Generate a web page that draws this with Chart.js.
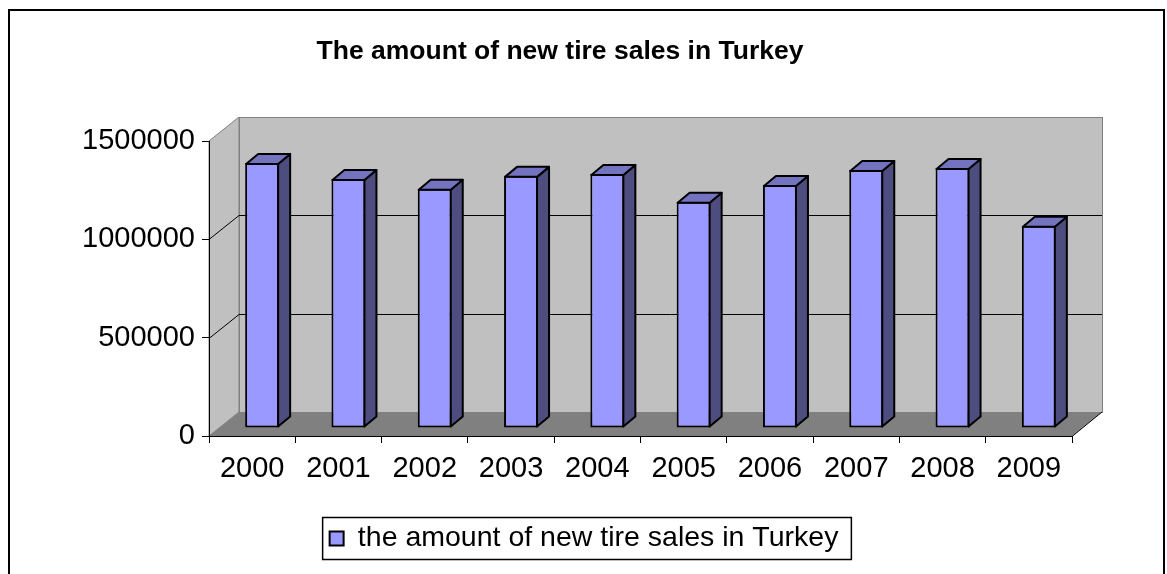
<!DOCTYPE html>
<html>
<head>
<meta charset="utf-8">
<title>New tire sales in Turkey</title>
<script src="https://cdn.jsdelivr.net/npm/chart.js@4.4.1/dist/chart.umd.min.js"></script>
<style>
  html, body { margin: 0; padding: 0; background: #ffffff; }
  #wrap { width: 1167px; height: 574px; position: relative; overflow: hidden; }
  canvas { display: block; }
</style>
</head>
<body>
<div id="wrap"><canvas id="chart" width="1167" height="574"></canvas></div>
<script>
// ---- data ----
const years = ['2000', '2001', '2002', '2003', '2004', '2005', '2006', '2007', '2008', '2009'];
const sales = [1348000, 1266000, 1216000, 1282000, 1292000, 1150000, 1236000, 1312000, 1322000, 1028000];
const yTickValues = [0, 500000, 1000000, 1500000];
const chartTitle = 'The amount of new tire sales in Turkey';
const seriesLabel = 'the amount of new tire sales in Turkey';

// ---- styling ----
const FONT = "'Liberation Sans', Arial, sans-serif";
const WALL_DEPTH = { dx: 30, dy: -24 };   // depth of the 3-D box
const BAR_SHIFT = { dx: 10, dy: -8 };     // bars stand a third of the way into the box
const BAR_DEPTH = { dx: 12, dy: -10 };    // thickness of each column
const LEGEND_INSET = 56;                  // moves the legend's centre to the right
const COLORS = {
  wall: '#c0c0c0',
  floor: '#808080',
  wallEdge: '#808080',
  barFront: '#9999ff',
  barTop: '#7373bf',
  barSide: '#4d4d80'
};

// Outer frame, walls, floor and grid lines of the 3-D plot box
const box3d = {
  id: 'box3d',
  afterLayout(chart) {
    const lg = chart.legend;
    if (lg) {
      lg.left += LEGEND_INSET;
      lg.width = lg.right - lg.left;
    }
  },
  beforeDraw(chart) {
    const ctx = chart.ctx;
    const { left, right, top, bottom } = chart.chartArea;
    const yScale = chart.scales.y;
    const dx = WALL_DEPTH.dx, dy = WALL_DEPTH.dy;
    ctx.save();

    // outer chart frame
    ctx.strokeStyle = '#000';
    ctx.lineWidth = 2;
    ctx.strokeRect(9, 10, 1155, 620);

    // side wall
    ctx.beginPath();
    ctx.moveTo(left, top);
    ctx.lineTo(left + dx, top + dy);
    ctx.lineTo(left + dx, bottom + dy);
    ctx.lineTo(left, bottom);
    ctx.closePath();
    ctx.fillStyle = COLORS.wall;
    ctx.fill();
    ctx.strokeStyle = COLORS.wallEdge;
    ctx.lineWidth = 1;
    ctx.stroke();

    // back wall
    ctx.fillStyle = COLORS.wall;
    ctx.fillRect(left + dx, top + dy, right - left, bottom - top);
    ctx.strokeStyle = COLORS.wallEdge;
    ctx.strokeRect(left + dx + 0.5, top + dy + 0.5, right - left, bottom - top);

    // floor
    ctx.beginPath();
    ctx.moveTo(left, bottom);
    ctx.lineTo(left + dx, bottom + dy);
    ctx.lineTo(right + dx, bottom + dy);
    ctx.lineTo(right, bottom);
    ctx.closePath();
    ctx.fillStyle = COLORS.floor;
    ctx.fill();
    ctx.beginPath();
    ctx.moveTo(right, bottom + 0.5);
    ctx.lineTo(right + dx, bottom + dy);
    ctx.strokeStyle = '#000';
    ctx.stroke();

    // grid lines on the side and back walls
    ctx.strokeStyle = '#000';
    ctx.lineWidth = 1;
    yScale.ticks.forEach(t => {
      if (t.value <= yScale.min || t.value >= yScale.max) return;
      const y = Math.round(yScale.getPixelForValue(t.value)) + 0.5;
      ctx.beginPath();
      ctx.moveTo(left, y);
      ctx.lineTo(left + dx, y + dy);
      ctx.lineTo(right + dx, y + dy);
      ctx.stroke();
    });
    ctx.restore();
  }
};

// Shift the columns into the box and add their top and side faces
const columns3d = {
  id: 'columns3d',
  beforeDatasetsDraw(chart) {
    chart.ctx.save();
    chart.ctx.translate(BAR_SHIFT.dx, BAR_SHIFT.dy);
  },
  afterDatasetsDraw(chart) {
    const ctx = chart.ctx;
    const meta = chart.getDatasetMeta(0);
    ctx.lineWidth = 2;
    ctx.lineJoin = 'round';
    ctx.strokeStyle = '#000';
    meta.data.forEach(el => {
      const p = el.getProps(['x', 'y', 'base', 'width'], true);
      const L = p.x - p.width / 2 + 1, R = p.x + p.width / 2 - 1;
      const T = p.y + 1, B = p.base - 1;
      const dx = BAR_DEPTH.dx, dy = BAR_DEPTH.dy;
      // side face
      ctx.beginPath();
      ctx.moveTo(R, T);
      ctx.lineTo(R + dx, T + dy);
      ctx.lineTo(R + dx, B + dy);
      ctx.lineTo(R, B);
      ctx.closePath();
      ctx.fillStyle = COLORS.barSide;
      ctx.fill();
      ctx.stroke();
      // top face
      ctx.beginPath();
      ctx.moveTo(L, T);
      ctx.lineTo(L + dx, T + dy);
      ctx.lineTo(R + dx, T + dy);
      ctx.lineTo(R, T);
      ctx.closePath();
      ctx.fillStyle = COLORS.barTop;
      ctx.fill();
      ctx.stroke();
    });
    ctx.restore();
  }
};

// Chart heading and the frame round the legend
const decorations = {
  id: 'decorations',
  afterDraw(chart) {
    const ctx = chart.ctx;
    ctx.save();
    ctx.fillStyle = '#000';
    ctx.font = 'bold 26.5px ' + FONT;
    ctx.textAlign = 'center';
    ctx.textBaseline = 'alphabetic';
    ctx.fillText(chartTitle, 560, 59);

    const hb = chart.legend.legendHitBoxes[0];
    if (hb) {
      const cy = hb.top + hb.height / 2;
      ctx.strokeStyle = '#000';
      ctx.lineWidth = 1.5;
      ctx.strokeRect(hb.left - 7, cy - 21, hb.width + 20, 42);
    }
    ctx.restore();
  }
};

new Chart(document.getElementById('chart'), {
  type: 'bar',
  data: {
    labels: years,
    datasets: [{
      label: seriesLabel,
      data: sales,
      backgroundColor: COLORS.barFront,
      borderColor: '#000',
      borderWidth: 2,
      borderSkipped: false,
      barPercentage: 0.394,
      categoryPercentage: 1,
      clip: false
    }]
  },
  options: {
    responsive: false,
    devicePixelRatio: 1,
    animation: false,
    layout: { padding: { left: 40, right: 95, top: 141, bottom: 11.25 } },
    plugins: {
      title: { display: false },
      tooltip: { enabled: false },
      legend: {
        position: 'bottom',
        labels: {
          font: { family: FONT, size: 28.5 },
          color: '#000',
          boxWidth: 14,
          boxHeight: 14,
          padding: 10
        }
      }
    },
    scales: {
      x: {
        type: 'category',
        offset: true,
        grid: { offset: true, drawOnChartArea: false, drawTicks: true, tickLength: 7, color: '#000' },
        border: { display: true, color: '#000', width: 1 },
        ticks: { font: { family: FONT, size: 29 }, color: '#000', padding: 9, maxRotation: 0, autoSkip: false },
        afterFit(scale) { scale.height = 78.25; }
      },
      y: {
        min: 0,
        max: 1500000,
        grid: { drawOnChartArea: false, drawTicks: true, tickLength: 7, color: '#000' },
        border: { display: true, color: '#000', width: 1 },
        ticks: {
          font: { family: FONT, size: 29 },
          color: '#000',
          padding: 7,
          callback: v => String(v)
        },
        afterBuildTicks(scale) { scale.ticks = yTickValues.map(v => ({ value: v })); },
        afterFit(scale) { scale.width = 169; }
      }
    }
  },
  plugins: [box3d, columns3d, decorations]
});
</script>
</body>
</html>
